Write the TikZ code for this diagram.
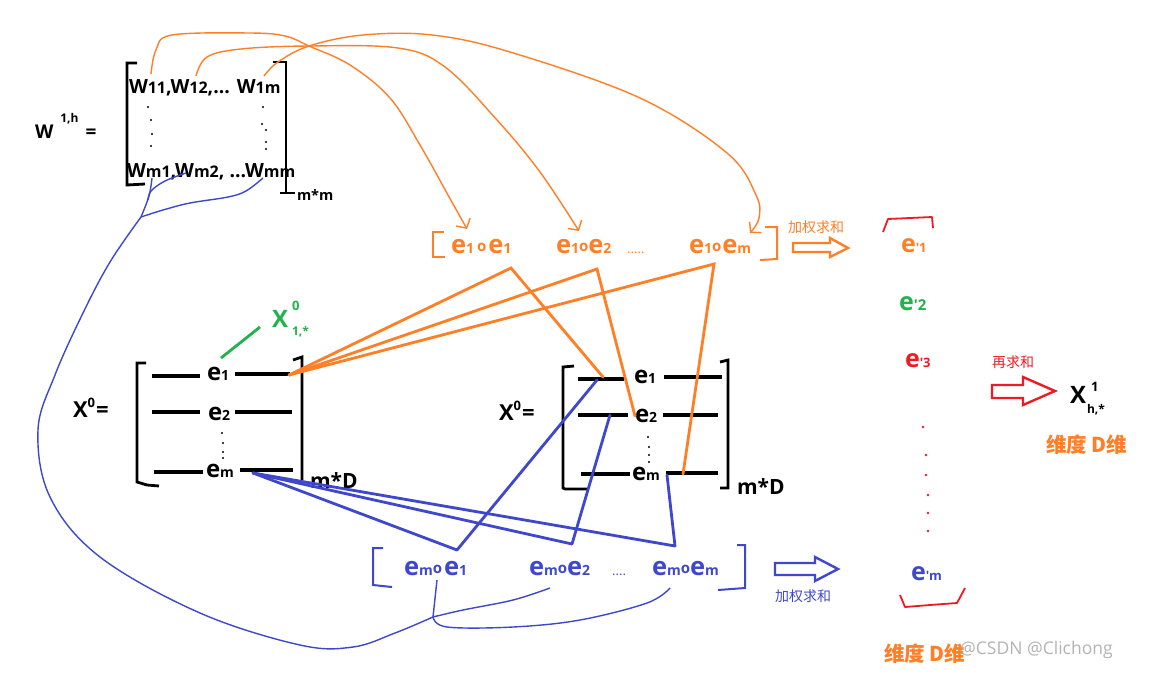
\documentclass[tikz,border=0pt]{standalone}
\usepackage{fontspec}
\setmainfont{Open Sans}
\newfontfamily\cjk{Noto Sans CJK SC}
\usetikzlibrary{arrows.meta}
\definecolor{ora}{HTML}{FF7F27}
\definecolor{blu}{HTML}{3F48CC}
\definecolor{rd}{HTML}{ED1C24}
\definecolor{grn}{HTML}{22B14C}
\newcommand{\szt}[2]{{\fontsize{#1}{#1}\selectfont #2}}
\newcommand{\ring}{\raisebox{1.5pt}{\szt{15}{o}}}
\tikzset{
  tx/.style={inner sep=0pt, outer sep=0pt, anchor=base west, font=\bfseries\fontsize{#1}{#1}\selectfont},
  cj/.style={inner sep=0pt, outer sep=0pt, anchor=base west, font=\cjk\fontsize{#1}{#1}\selectfont},
  brk/.style={line width=2.8pt, line cap=butt, line join=miter},
  rowline/.style={line width=3.2pt},
  othick/.style={ora, line width=2.8pt, line cap=round},
  bthick/.style={blu, line width=2.8pt, line cap=round, line join=round},
  othin/.style={ora, line width=1.4pt},
  bthin/.style={blu, line width=1.4pt},
  barb/.style={-{Straight Barb[length=7pt,width=16pt]}},
  hollow/.style={line width=2.4pt, fill=white, line join=miter},
  rbrk/.style={rd, line width=1.8pt, line join=round},
}
\begin{document}
\begin{tikzpicture}[x=1pt,y=-1pt]
\fill[white] (0,0) rectangle (1156,689);
\useasboundingbox (0,0) rectangle (1156,689);

% ================= W matrix
\node[tx=19] (Wlab) at (35,138) {W\hspace{7pt}\raisebox{16pt}{\szt{12}{1,h}}\hspace{7pt}=};
\node[tx=19.5] (wrow1) at (129,93) {W\szt{16}{11},W\szt{16}{12},... W\szt{16}{1m}};
\node[tx=19.5] (wrowm) at (127,177) {W\szt{16}{m1},W\szt{16}{m2}, ...W\szt{16}{mm}};
\draw[brk] (137,63) -- (127,63) -- (127,185) -- (145,184);
\draw[brk] (273,62) -- (286,62) -- (286,193);
\draw[brk] (280,193) -- (295,193);
\node[tx=14.5] (mm) at (297,200) {m*m};
\foreach \p in {(148,107),(151,120),(152,134),(151,146),(263,107),(262,124),(266,130),(266,142),(266,149)}
  \fill \p circle (1.1pt);

% ================= orange row
\node[tx=25.5, text=ora] (i11) at (451,253) {e\szt{14}{1}\hspace{3pt}\ring\hspace{2pt}e\szt{14}{1}};
\node[tx=25.5, text=ora] (i12) at (556,253) {e\szt{14}{1}\ring e\szt{14}{2}};
\node[inner sep=0pt, anchor=base west, text=ora, font=\fontsize{13}{13}\selectfont] (idots) at (627,253) {.....};
\node[tx=25.5, text=ora] (i1m) at (689,253) {e\szt{14}{1}\ring\hspace{1pt}e\szt{14}{m}};
\draw[ora, line width=2pt] (444,232) -- (433,232) -- (433,257) -- (445,257);
\draw[ora, line width=2pt] (765,227) -- (777,227) -- (777,259) -- (760,260);
\node[cj=14, text=ora] (wsum1) at (788,232) {加权求和};
\draw[ora, hollow] (793,243) -- (830,243) -- (830,238) -- (848,248) -- (830,257) -- (830,252) -- (793,252) -- cycle;

% ================= orange curves from W
\coordinate (w11t) at (151,74);
\coordinate (w12t) at (196,76);
\coordinate (w1mt) at (264,76);
\coordinate (cross) at (309,46);
\coordinate (ar1) at (467,229);
\coordinate (ar2) at (579,231);
\coordinate (ar3) at (750,233);
\draw[othin, barb] plot[smooth, tension=0.6] coordinates {(w11t) (156,50) (172,35) (250,33) (285,36) (cross) (350,65) (390,98) (420,145) (448,195) (ar1)};
\draw[othin, barb] plot[smooth, tension=0.6] coordinates {(w12t) (207,57) (241,49) (cross) (398,48) (445,67) (497,120) (540,172) (ar2)};
\draw[othin, barb] plot[smooth, tension=0.6] coordinates {(w1mt) (278,62) (cross) (363,35) (432,35) (510,52) (640,98) (727,153) (756,195) (759,218) (ar3)};

% ================= right column
\draw[rbrk] (883,232) -- (888,219) -- (932,217) -- (933,228);
\node[tx=25, text=ora] (ep1) at (901,252) {e\szt{13}{\textquotesingle 1}};
\node[tx=25, text=grn] (ep2) at (899,310) {e\szt{15}{\textquotesingle 2}};
\node[tx=25, text=rd] (ep3) at (905,367) {e\szt{13}{\textquotesingle 3}};
\foreach \p in {(923,427),(926,455),(926,475),(928,495),(928,513),(928,531)}
  \fill[rd] \p circle (1.4pt);
\node[tx=25, text=blu] (epm) at (911,580) {e\szt{13}{\textquotesingle m}};
\draw[rbrk] (900,595) -- (905,607) -- (930,605) -- (957,603) -- (965,588);
\node[cj=20.5, font=\cjk\bfseries\fontsize{20.5}{20.5}\selectfont, text=ora] (dimA) at (884,661) {维度 D维};
\node[inner sep=0pt, anchor=base west, text=gray!70, opacity=0.85, font=\fontsize{17.5}{17.5}\selectfont] (wm) at (960,654) {@CSDN @Clichong};

% sum arrow
\node[cj=14, text=rd] (resum) at (992,367) {再求和};
\draw[rd, hollow] (992,385) -- (1023,385) -- (1023,377) -- (1055,391) -- (1023,405) -- (1023,398) -- (992,398) -- cycle;
\node[tx=24] (x1) at (1070,403) {X\hspace{5pt}\raisebox{12pt}{\rlap{\szt{13}{1}}}\hspace{-4pt}\raisebox{-10pt}{\szt{12}{h,*}}};
\node[cj=20.5, font=\cjk\bfseries\fontsize{20.5}{20.5}\selectfont, text=ora] (dimB) at (1046,452) {维度 D维};

% ================= left X0 matrix
\node[tx=22] (xl) at (73,417) {X\raisebox{10pt}{\szt{13}{0}}\hspace{1pt}=};
\draw[brk] (146,363) -- (137,363) -- (137,482) -- (147,485) -- (159,486);
\draw[brk] (293,360) -- (302,357) -- (302,480);
\node[tx=24] (le1) at (207,380) {e\szt{14}{1}};
\node[tx=24] (le2) at (208,420) {e\szt{14}{2}};
\node[tx=24] (lem) at (206,477) {e\szt{14}{m}};
\draw[rowline] (152,376) -- (200,376);
\draw[rowline] (235,374) -- (290,374);
\draw[rowline] (152,412) -- (200,412);
\draw[rowline] (235,412) -- (292,412);
\draw[rowline] (154,472) -- (203,472);
\draw[rowline] (240,470) -- (293,470);
\foreach \p in {(222,433),(223,443),(223,452),(223,458)} \fill \p circle (1.2pt);
\node[tx=21] (mdl) at (310,488) {m*D};
% green label
\draw[grn, line width=2.8pt] (221,358) -- (260,327);
\node[tx=24, text=grn] (x01) at (272,327) {X\hspace{4pt}\raisebox{17pt}{\rlap{\szt{13}{0}}}\raisebox{-8pt}{\szt{12}{1,*}}};

% ================= right X0 matrix
\node[tx=22] (xr) at (499,420) {X\raisebox{10pt}{\szt{13}{0}}\hspace{1pt}=};
\draw[brk] (574,366) -- (563,367) -- (563,488) -- (565,489) -- (588,489);
\draw[brk] (720,362) -- (728,360) -- (728,488) -- (720,488);
\node[tx=24] (re1) at (634,383) {e\szt{14}{1}};
\node[tx=24] (re2) at (635,422) {e\szt{14}{2}};
\node[tx=24] (rem) at (632,480) {e\szt{14}{m}};
\draw[rowline] (578,379) -- (624,379);
\draw[rowline] (664,377) -- (722,377);
\draw[rowline] (578,415) -- (628,415);
\draw[rowline] (663,415) -- (718,415);
\draw[rowline] (581,474) -- (630,474);
\draw[rowline] (666,473) -- (718,473);
\foreach \p in {(648,437),(649,447),(649,455),(649,462)} \fill \p circle (1.2pt);
\node[tx=21] (mdr) at (737,494) {m*D};

% ================= orange V connectors
\coordinate (L1) at (289,375);
\coordinate (a11) at (511,268);
\coordinate (a12) at (597,269);
\coordinate (a1m) at (714,264);
\coordinate (R1) at (603,377);
\coordinate (R2) at (635,416);
\coordinate (Rm) at (683,474);
\draw[othick] (L1) -- (a11) -- (R1);
\draw[othick] (L1) -- (a12) -- (R2);
\draw[othick] (L1) -- (a1m) -- (Rm);

% ================= blue row
\node[tx=25.5, text=blu] (b1) at (404,575) {e\szt{14}{m}\ring\hspace{2pt}e\szt{14}{1}};
\node[tx=25.5, text=blu] (b2) at (529,575) {e\szt{14}{m}\ring e\szt{14}{2}};
\node[inner sep=0pt, anchor=base west, text=blu, font=\fontsize{13}{13}\selectfont] (bdots) at (612,575) {....};
\node[tx=25.5, text=blu] (bm) at (652,575) {e\szt{14}{m}\ring e\szt{14}{m}};
\draw[blu, line width=2pt] (383,548) -- (373,548) -- (373,585) -- (392,587);
\draw[blu, line width=2pt] (737,545) -- (745,545) -- (745,588) -- (718,590);
\draw[blu, hollow] (775,563) -- (815,563) -- (815,557) -- (838,569) -- (815,581) -- (815,575) -- (775,575) -- cycle;
\node[cj=14, text=blu] (wsum2) at (775,601) {加权求和};

% ================= blue V connectors
\coordinate (Lm) at (253,473);
\coordinate (v1) at (457,550);
\coordinate (v2) at (572,544);
\coordinate (vm) at (675,546);
\coordinate (RB1) at (597,380);
\coordinate (RB2) at (610,415);
\coordinate (RBm) at (667,475);
\draw[bthick] (Lm) -- (v1) -- (RB1);
\draw[bthick] (Lm) -- (v2) -- (RB2);
\draw[bthick] (Lm) -- (vm) -- (RBm);

% ================= blue thin curves
\coordinate (wm1b) at (152,178);
\coordinate (wm2b) at (186,173);
\coordinate (wmmb) at (263,178);
\coordinate (jt) at (141,217);
\coordinate (bb1) at (437,580);
\coordinate (bb2) at (550,588);
\coordinate (bbm) at (670,588);
\coordinate (jb) at (433,617);
\draw[bthin] plot[smooth, tension=0.6] coordinates {(wm1b) (149,196) (jt)};
\draw[bthin] plot[smooth, tension=0.6] coordinates {(wm2b) (165,181) (151,191) (148,200)};
\draw[bthin] plot[smooth, tension=0.6] coordinates {(wmmb) (246,191) (228,197) (190,203) (163,210) (jt)};
\draw[bthin] plot[smooth, tension=0.6] coordinates {(jt) (110,262) (83,313) (55,375) (38,430) (50,497) (100,557) (200,613) (300,645) (353,647) (395,633) (jb)};
\draw[bthin] (bb1) -- (jb);
\draw[bthin] plot[smooth, tension=0.6] coordinates {(jb) (463,610) (513,600) (bb2)};
\draw[bthin] plot[smooth, tension=0.6] coordinates {(jb) (447,627) (513,627) (580,620) (647,603) (bbm)};
\end{tikzpicture}
\end{document}
